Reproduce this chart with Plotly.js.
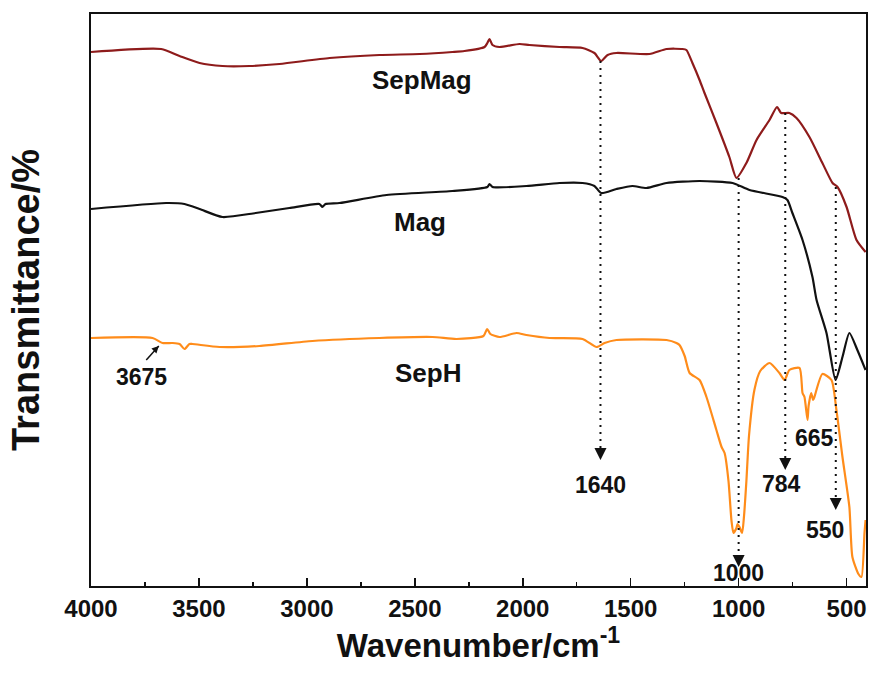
<!DOCTYPE html>
<html><head><meta charset="utf-8">
<script src="https://cdn.plot.ly/plotly-3.0.1.min.js"></script>
<style>html,body{margin:0;padding:0;background:#fff}#chart{width:871px;height:692px}</style>
</head><body><div id="chart"></div>
<script>
// Wavenumber (cm-1) and transmittance (arbitrary, stacked)
const sepMagWn = [4000,3675,3590,3497,3391,3266,3127,2895,2664,2478,2326,2270,2177,2164,2154,2140,2108,2015,1969,1830,1723,1668,1637,1607,1566,1413,1334,1260,1242,1214,1181,1158,1103,1043,1010,964,917,857,822,803,765,732,672,612,565,542,500,454,412];
const sepMagT  = [534,537,530,523,520,520,522,528,531,532,534,535,539,543,547,541,539,542,541,539,538,533,525,531,533,532,537,537,536,523,506,493,463,429,408,423,446,466,479,473,473,468,449,423,403,399,379,346,334];

const magWn = [4000,3652,3567,3497,3391,3237,3081,2942,2928,2914,2849,2631,2326,2164,2154,2140,1983,1830,1723,1668,1637,1566,1492,1427,1334,1181,1028,950,797,774,751,704,658,639,593,551,519,487,450,412];
const magT  = [377,383,382,377,369,373,378,382,379,382,383,391,395,399,402,399,400,403,403,400,393,397,400,398,403,405,403,396,389,386,373,346,309,286,253,206,229,253,236,216];

const sepHWn = [4000,3715,3669,3622,3590,3567,3544,3530,3405,3220,2974,2664,2418,2307,2182,2165,2150,2108,2029,1983,1876,1723,1658,1621,1566,1334,1288,1274,1250,1227,1181,1149,1103,1079,1065,1047,1033,1024,1010,1005,996,984,975,964,952,927,900,857,811,787,765,718,704,695,681,676,664,655,649,612,570,547,519,487,473,445,431,417,412];
const sepHT  = [248,248,243,243,242,237,242,242,239,240,245,248,249,247,250,257,252,249,253,251,248,247,239,243,246,246,243,241,230,213,206,189,156,139,133,105,65,53,58,62,59,53,70,105,150,196,215,223,213,206,216,218,193,189,166,180,193,186,189,212,206,176,129,79,29,12,9,53,66];

const seriesNames = ['SepMag','Mag','SepH'];

// Marked bands (dotted guide lines)
const bandWn  = [1640,1000,784,550];
const bandTop = [525,408,473,399];
const bandTip = [126,19,116,76];

// Band labels
const labelText = ['1640','1000','784','550','665','3675'];
const labelWn   = [1640,1000,801,599,649,3766];
const labelT    = [101,13,102,56,148,209];

// Pointer for the 3675 band: tail and tip
const pointerWn = [3744,3686];
const pointerT  = [226,240];

const colors = ['#8e1b1b','#111111','#ff8c1a'];
const xs = [sepMagWn, magWn, sepHWn];
const ys = [sepMagT, magT, sepHT];
const fontFam = 'Arial, Liberation Sans, sans-serif';

const traces = [];
for (let i = 0; i < 3; i++) {
  traces.push({x: xs[i], y: ys[i], type:'scatter', mode:'lines', name: seriesNames[i],
    line:{color: colors[i], width:2.2, shape:'spline', smoothing:0.6}, hoverinfo:'skip'});
}
for (let i = 0; i < bandWn.length; i++) {
  traces.push({x:[bandWn[i], bandWn[i]], y:[bandTop[i], bandTip[i] + 4], type:'scatter', mode:'lines',
    line:{color:'#111', width:2, dash:'2px,5px'}, hoverinfo:'skip'});
}
traces.push({x: bandWn, y: bandTip, type:'scatter', mode:'markers',
  marker:{symbol:'arrow-down', size:12, color:'#111'}, hoverinfo:'skip'});
// 3675 pointer
traces.push({x: pointerWn, y: pointerT, type:'scatter', mode:'lines',
  line:{color:'#111', width:1.5}, hoverinfo:'skip'});
traces.push({x: [pointerWn[1]], y: [pointerT[1]], type:'scatter', mode:'markers',
  marker:{symbol:'arrow-up', size:7, color:'#111', angle:44}, hoverinfo:'skip'});

const annotations = [];
for (let i = 0; i < labelText.length; i++) {
  annotations.push({x: labelWn[i], y: labelT[i], xref:'x', yref:'y', text: labelText[i], showarrow:false,
    font:{family: fontFam, size:23, color:'#111', weight:'bold'}});
}
// curve names
const nameWn = [2469, 2474, 2437];
const nameT = [506, 364, 213];
for (let i = 0; i < 3; i++) {
  annotations.push({x: nameWn[i], y: nameT[i], xref:'x', yref:'y', text: seriesNames[i], showarrow:false,
    font:{family: fontFam, size:26, color:'#111', weight:'bold'}});
}

const layout = {
  width:871, height:692,
  margin:{l:91, r:5, t:14, b:106},
  paper_bgcolor:'#fff', plot_bgcolor:'#fff',
  showlegend:false,
  font:{family: fontFam, color:'#111'},
  xaxis:{range:[4000,410], tick0:500, dtick:500, ticks:'inside', ticklen:8, tickwidth:1.5, tickcolor:'#111',
    minor:{dtick:250, ticks:'inside', ticklen:4, tickwidth:1.5, tickcolor:'#111'},
    showline:true, linewidth:2, linecolor:'#111', mirror:true, showgrid:false, zeroline:false,
    tickfont:{size:24, weight:'bold', color:'#111'},
    title:{text:'Wavenumber/cm<sup>-1</sup>', font:{size:33, weight:'bold', color:'#111'}, standoff:12},
    automargin:false},
  yaxis:{range:[0,572], showticklabels:false, ticks:'', showline:true, linewidth:2, linecolor:'#111', mirror:true,
    showgrid:false, zeroline:false,
    title:{text:'Transmittance/%', font:{size:38, weight:'bold', color:'#111'}, standoff:38},
    automargin:false},
  annotations: annotations
};
Plotly.newPlot('chart', traces, layout, {displayModeBar:false, staticPlot:true});
</script></body></html>
